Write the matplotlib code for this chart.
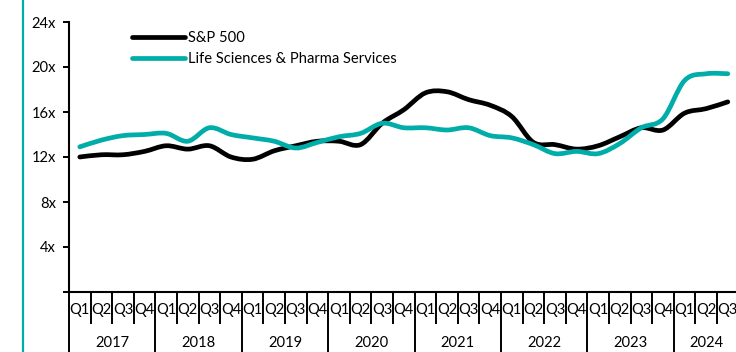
import matplotlib
matplotlib.use("Agg")
import matplotlib.pyplot as plt
import numpy as np
from matplotlib.path import Path
from matplotlib.patches import PathPatch
from matplotlib.lines import Line2D
import matplotlib.transforms as mtransforms

plt.rcParams['font.family'] = ['Lato', 'DejaVu Sans']

years = ["2017", "2018", "2019", "2020", "2021", "2022", "2023", "2024"]
quarters = ["Q1", "Q2", "Q3", "Q4"]
categories = [f"{y} {q}" for y in years for q in quarters][:31]
quarter_labels = [c.split()[1] for c in categories]

sp500 = [12.0, 12.2, 12.2, 12.5, 13.0, 12.7, 13.0, 12.0,
         11.8, 12.55, 13.0, 13.4, 13.4, 13.1, 15.0, 16.2,
         17.7, 17.8, 17.1, 16.6, 15.6, 13.3, 13.1, 12.7,
         13.0, 13.8, 14.6, 14.4, 15.9, 16.3, 16.9]
life_sci = [12.9, 13.5, 13.9, 14.0, 14.1, 13.4, 14.6, 14.0,
            13.7, 13.4, 12.8, 13.3, 13.8, 14.1, 15.0, 14.6,
            14.6, 14.4, 14.6, 13.9, 13.7, 13.1, 12.3, 12.5,
            12.3, 13.2, 14.6, 15.4, 18.8, 19.4, 19.4]
series_names = ["S&P 500", "Life Sciences & Pharma Services"]
series_colors = ["#000000", "#00ADA9"]
yticks = [0, 4, 8, 12, 16, 20, 24]
ytick_labels = ["" if v == 0 else f"{v}x" for v in yticks]

W, H = 736, 352
fig = plt.figure(figsize=(W / 100, H / 100), dpi=100)
ax = fig.add_axes([69 / W, 60 / H, 669.6 / W, 270 / H])


def smooth_path(xs, ys):
    pts = np.column_stack([xs, ys]).astype(float)
    n = len(pts)
    verts = [pts[0]]
    codes = [Path.MOVETO]
    for i in range(n - 1):
        p0 = pts[i - 1] if i > 0 else pts[i]
        p1 = pts[i]
        p2 = pts[i + 1]
        p3 = pts[i + 2] if i + 2 < n else pts[i + 1]
        c1 = p1 + (p2 - p0) / 6.0
        c2 = p2 - (p3 - p1) / 6.0
        verts += [c1, c2, p2]
        codes += [Path.CURVE4] * 3
    return Path(verts, codes)


x = np.arange(len(categories))
handles = []
for vals, name, col in zip([sp500, life_sci], series_names, series_colors):
    patch = PathPatch(smooth_path(x, vals), facecolor="none", edgecolor=col,
                      lw=3.4, capstyle="round", joinstyle="round", zorder=3)
    ax.add_patch(patch)
    handles.append(Line2D([], [], color=col, lw=3.4, solid_capstyle="round"))

FS = 10.6
ax.set_xlim(-0.5, len(categories) - 0.5)
ax.set_ylim(0, 24)
ax.set_yticks(yticks)
ax.set_yticklabels(ytick_labels, fontsize=FS)
ax.tick_params(axis="y", direction="out", length=4.5, width=1.4, pad=5)
ax.set_xticks([])
for s in ["top", "right"]:
    ax.spines[s].set_visible(False)
ax.spines["left"].set_linewidth(1.5)
ax.spines["bottom"].set_linewidth(1.5)

# category axis: dividers and labels
trans = mtransforms.blended_transform_factory(ax.transData, ax.transAxes)
px = 1.0 / 270  # one pixel in axes-y units
for i in range(len(categories) + 1):
    xd = i - 0.5
    y_end = -60 * px if i % 4 == 0 else -31 * px
    ax.add_line(Line2D([xd, xd], [0, y_end], transform=trans, color="black",
                       lw=1.4, clip_on=False))
for i, q in enumerate(quarter_labels):
    ax.text(i, -18 * px, q, transform=trans, ha="center", va="center",
            fontsize=FS, clip_on=False)
for k, yr in enumerate(years):
    idx = [i for i, c in enumerate(categories) if c.startswith(yr)]
    ax.text(np.mean(idx), -51 * px, yr, transform=trans, ha="center",
            va="center", fontsize=FS, clip_on=False)

leg = ax.legend(handles, series_names, loc="upper left",
                bbox_to_anchor=(63 / 669.6, 1 - 9 / 270), frameon=False,
                fontsize=FS, handlelength=3.6, handletextpad=0.2,
                labelspacing=0.5, borderaxespad=0, borderpad=0)

fig.add_artist(Line2D([22.7 / W, 22.7 / W], [0, 1], transform=fig.transFigure,
                      color="#00ADA9", lw=1.6))

fig.savefig("out.png", dpi=100)
